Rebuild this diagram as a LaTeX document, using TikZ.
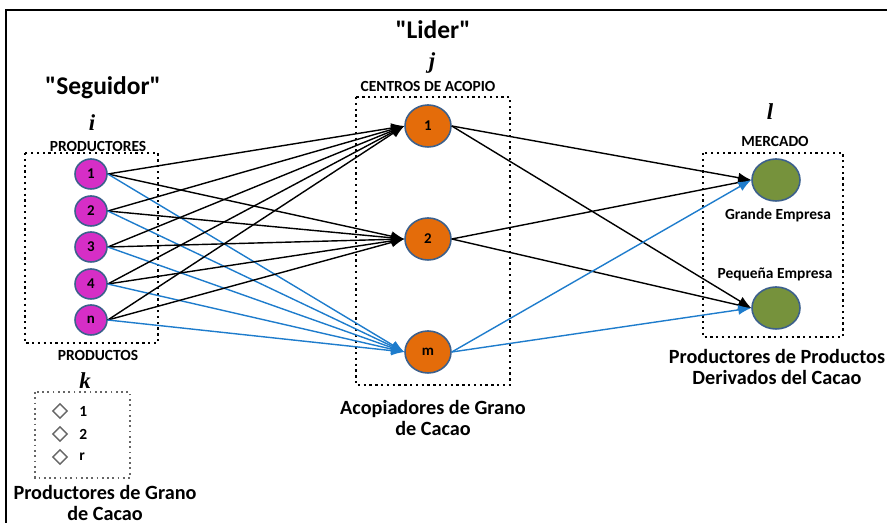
\documentclass[tikz,border=0pt]{standalone}
\usepackage{fontspec}
\setmainfont{Carlito}
\newfontfamily\idxfont{Liberation Serif}
\usetikzlibrary{arrows.meta,shapes.geometric}

\definecolor{prodpink}{RGB}{214,46,198}
\definecolor{acoorange}{RGB}{228,108,10}
\definecolor{mktgreen}{RGB}{118,146,60}
\definecolor{rimblue}{RGB}{60,96,140}
\definecolor{lineblue}{RGB}{30,124,204}

\tikzset{
  prodnode/.style={ellipse, fill=prodpink, draw=rimblue, line width=0.9pt,
    minimum width=32*0.02cm, minimum height=30*0.02cm, inner sep=0pt,
    font=\bfseries\fontsize{8.5}{9}\selectfont},
  aconode/.style={ellipse, fill=acoorange, draw=rimblue, line width=0.9pt,
    minimum width=46*0.02cm, minimum height=42*0.02cm, inner sep=0pt,
    font=\bfseries\fontsize{8.5}{9}\selectfont},
  mktnode/.style={ellipse, fill=mktgreen, draw=rimblue, line width=0.9pt,
    minimum width=48*0.02cm, minimum height=42*0.02cm, inner sep=0pt},
  dotbox/.style={draw, dotted, line width=1.3pt},
  smalllab/.style={font=\bfseries\fontsize{8.8}{9}\selectfont, inner sep=0pt},
  biglab/.style={font=\bfseries\fontsize{11.5}{11.5}\selectfont, align=center, inner sep=0pt},
  rolelab/.style={font=\bfseries\fontsize{14.5}{16}\selectfont, inner sep=0pt},
  idxlab/.style={font=\idxfont\bfseries\itshape\fontsize{13}{14}\selectfont, inner sep=0pt},
  blkarrow/.style={-{Latex[length=2.6mm,width=2mm]}, line width=0.8pt},
  bluarrow/.style={-{Latex[length=2.6mm,width=2mm]}, line width=0.8pt, lineblue}
}

\begin{document}
\begin{tikzpicture}[x=0.02cm,y=-0.02cm]
  \useasboundingbox (0,0) rectangle (887,523);

  % Outer frame
  \draw[line width=1.5pt] (6,523) -- (6,10) -- (887,10);

  % Follower: producers
  \node[rolelab] (seguidor) at (103,88) {\textquotedbl Seguidor\textquotedbl};
  \node[idxlab] (idxi) at (92,123) {i};
  \node[smalllab] (productores) at (98,146) {PRODUCTORES};
  \draw[dotbox] (25,153) rectangle (158,343);
  \node[prodnode] (p1) at (91,174) {1};
  \node[prodnode] (p2) at (91,211) {2};
  \node[prodnode] (p3) at (91,247) {3};
  \node[prodnode] (p4) at (91,284) {4};
  \node[prodnode] (pn) at (91,320) {n};
  \node[smalllab] (productos) at (98,355) {PRODUCTOS};

  % Products
  \node[idxlab] (idxk) at (85,381) {k};
  \draw[dotbox, gray!80!black, line width=1pt] (35,392) rectangle (130,478);
  \foreach \y/\t in {411/1,434/2,457/r} {
    \node[diamond, draw=gray!80!black, line width=0.8pt, minimum size=15*0.02cm, inner sep=0pt] (d\t) at (60,\y) {};
    \node[smalllab, anchor=west] (k\t) at (79,\y) {\t};
  }
  \node[biglab] (granlab) at (105,503) {Productores de Grano\\de Cacao};

  % Leader: collection centres
  \node[rolelab] (lider) at (433,30) {\textquotedbl Lider\textquotedbl};
  \node[idxlab] (idxj) at (432,63) {j};
  \node[smalllab] (centros) at (428,86) {CENTROS DE ACOPIO};
  \draw[dotbox] (356,97) rectangle (510,385);
  \node[aconode] (c1) at (428,126) {1};
  \node[aconode] (c2) at (428,239) {2};
  \node[aconode] (cm) at (428,352) {m};
  \node[biglab] (acolab) at (433,418) {Acopiadores de Grano\\de Cacao};

  % Market
  \node[idxlab] (idxl) at (770,112) {l};
  \node[smalllab] (mercado) at (775,141) {MERCADO};
  \draw[dotbox] (703,153) rectangle (843,337);
  \node[mktnode] (grande) at (776,180) {};
  \node[smalllab] (grandelab) at (778,215) {Grande Empresa};
  \node[smalllab] (pequelab) at (775,274) {Pequeña Empresa};
  \node[mktnode] (peque) at (776,308) {};
  \node[biglab] (derlab) at (777,367) {Productores de Productos\\Derivados del Cacao};

  % Producers to centres
  \foreach \s in {p1,p2,p3,p4,pn} {
    \draw[blkarrow] (\s.east) -- (c1.west);
    \draw[blkarrow] (\s.east) -- (c2.west);
    \draw[bluarrow] (\s.east) -- (cm.west);
  }

  % Centres to market
  \foreach \s in {c1,c2} {
    \draw[blkarrow] (\s.east) -- (grande.west);
    \draw[blkarrow] (\s.east) -- (peque.west);
  }
  \draw[bluarrow] (cm.east) -- (grande.west);
  \draw[bluarrow] (cm.east) -- (peque.west);
\end{tikzpicture}
\end{document}
